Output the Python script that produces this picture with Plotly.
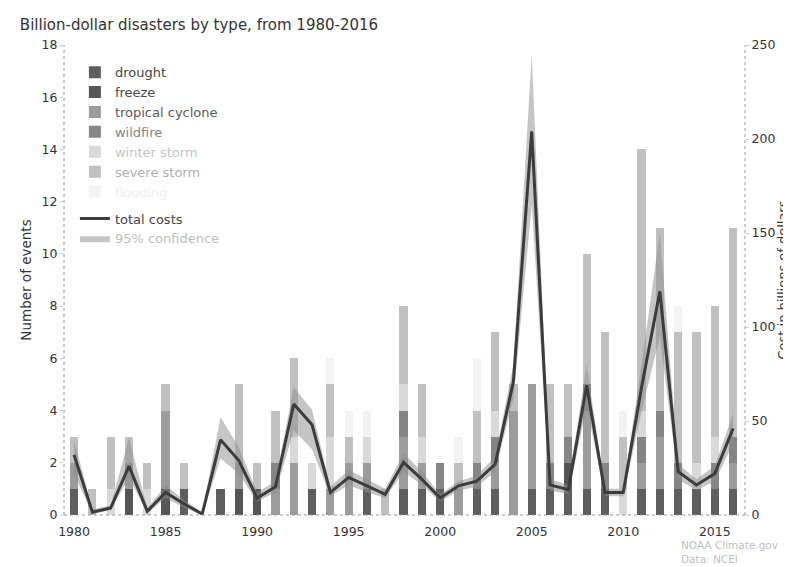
import plotly.graph_objects as go

years = list(range(1980, 2017))

# event counts by type
drought =          [1,0,0,0,0,0,1,0,1,0,0,0,0,1,0,0,1,0,1,1,1,0,1,1,0,1,1,1,1,1,0,1,1,1,1,1,1]
freeze =           [0,0,0,1,0,1,0,0,0,1,1,0,0,0,0,0,0,0,0,0,0,0,0,0,0,0,0,1,0,0,0,0,0,0,0,0,0]
tropical_cyclone = [1,0,0,1,0,3,0,0,0,1,0,1,2,0,1,2,1,0,2,1,0,1,0,1,4,4,0,0,3,0,0,1,2,0,0,0,1]
wildfire =         [0,0,0,0,0,0,0,0,0,0,0,1,0,0,0,0,0,0,1,0,1,0,1,1,0,0,1,1,1,1,0,1,1,1,0,1,1]
winter_storm =     [0,0,1,0,1,0,0,0,0,0,0,0,1,1,2,0,1,0,1,1,0,0,0,1,0,0,0,0,0,0,1,1,0,0,1,1,0]
severe_storm =     [1,1,2,1,1,1,1,0,0,3,1,2,3,0,2,1,0,1,3,2,0,1,2,3,1,0,3,2,5,5,2,10,7,5,5,5,8]
flooding =         [0,0,0,0,0,0,0,0,0,0,0,0,0,0,1,1,1,0,0,0,0,1,2,0,0,0,0,0,0,0,1,0,0,1,0,0,0]

# total costs (billions of dollars) and 95% confidence bounds
total_costs = [32,1.5,3.7,26,2,12,6,0.5,40,29,9,15,59,48,12,20,15.5,11,28,19,9,15.5,18,27,71,204,16,13.5,69,12,12,68,119,23,16,22,46]
conf_low =    [22,0.5,2.5,20,1,9,4,0,30,22,7,12,45,35,10,16,12,9,23,16,7,13,15,23,62,165,13,11,58,10,10,55,95,19,13,18,38]
conf_high =   [40,3,5,41,3.5,16,8,1.5,52,36,12,18,68,56,15,24,19,14,33,23,11,18,21,31,80,245,19,16,80,14,14,80,150,27,19,26,54]

x_ticks = [1980, 1985, 1990, 1995, 2000, 2005, 2010, 2015]
left_ticks = list(range(0, 19, 2))
right_ticks = [0, 50, 100, 150, 200, 250]

FONT = "DejaVu Sans"

bar_series = [
    ("drought", drought, "#5e5e5e", "#444444"),
    ("freeze", freeze, "#555555", "#484848"),
    ("tropical cyclone", tropical_cyclone, "#9c9c9c", "#5a5a5a"),
    ("wildfire", wildfire, "#858585", "#858585"),
    ("winter storm", winter_storm, "#d9d9d9", "#c4c4c4"),
    ("severe storm", severe_storm, "#c0c0c0", "#b0b0b0"),
    ("flooding", flooding, "#f3f3f3", "#f0f0f0"),
]

fig = go.Figure()
for i, (name, vals, color, tcolor) in enumerate(bar_series):
    fig.add_trace(go.Bar(
        x=years, y=vals, name=f"<span style='color:{tcolor}'>{name}</span>",
        marker=dict(color=color, line=dict(width=0)),
        width=0.45, legendgroup="types", legendrank=i + 1,
    ))

fig.add_trace(go.Scatter(
    x=years, y=conf_low, yaxis="y2", mode="lines",
    line=dict(width=0, color="rgba(0,0,0,0)"), showlegend=False,
    legendgroup="cost", hoverinfo="skip",
))
fig.add_trace(go.Scatter(
    x=years, y=conf_high, yaxis="y2", mode="lines", fill="tonexty",
    fillcolor="rgba(140,140,140,0.5)", line=dict(width=0, color="rgba(0,0,0,0)"),
    name="<span style='color:#bdbdbd'>95% confidence</span>",
    legendgroup="cost", legendrank=9,
))
fig.add_trace(go.Scatter(
    x=years, y=total_costs, yaxis="y2", mode="lines",
    line=dict(color="#3c3c3c", width=3),
    name="<span style='color:#444444'>total costs</span>",
    legendgroup="cost", legendrank=8,
))

dot = dict(color="#9a9a9a", width=1, dash="dot")
tick_font = dict(family=FONT, size=12.5, color="#333333")
fig.update_layout(
    width=791, height=567,
    margin=dict(l=56, r=52, t=37, b=60),
    paper_bgcolor="white", plot_bgcolor="white",
    barmode="stack",
    font=dict(family=FONT, size=13, color="#333333"),
    title=dict(text="Billion-dollar disasters by type, from 1980-2016",
               x=0.015, xanchor="left", y=0.97, yanchor="middle",
               font=dict(family=FONT, size=15, color="#333333")),
    xaxis=dict(range=[1979.45, 2016.65], tickmode="array", tickvals=x_ticks,
               showgrid=False, zeroline=False, showline=False,
               ticks="outside", ticklen=5, tickcolor="rgba(0,0,0,0)",
               tickfont=tick_font),
    yaxis=dict(range=[0, 18], tickmode="array", tickvals=left_ticks,
               showgrid=False, zeroline=False, showline=False,
               ticks="outside", ticklen=3, tickcolor="#c8c8c8",
               tickfont=tick_font,
               title=dict(text="Number of events", standoff=6,
                          font=dict(family=FONT, size=13.5, color="#333333"))),
    yaxis2=dict(range=[0, 250], overlaying="y", side="right",
                tickmode="array", tickvals=right_ticks,
                showgrid=False, zeroline=False, showline=False,
                ticks="outside", ticklen=3, tickcolor="#c8c8c8",
                tickfont=tick_font,
                title=dict(text="Cost in billions of dollars", standoff=2,
                           font=dict(family=FONT, size=13, color="#333333"))),
    legend=dict(x=0.016, y=0.974, xanchor="left", yanchor="top",
                bgcolor="rgba(0,0,0,0)", traceorder="grouped",
                tracegroupgap=7, font=dict(family=FONT, size=13)),
    shapes=[
        dict(type="line", xref="paper", yref="paper", x0=0, x1=0, y0=0, y1=1, line=dot),
        dict(type="line", xref="paper", yref="paper", x0=1, x1=1, y0=0, y1=1, line=dot),
        dict(type="line", xref="paper", yref="paper", x0=0, x1=1, y0=0, y1=0, line=dot),
    ],
    annotations=[dict(text="NOAA Climate.gov<br>Data: NCEI", xref="paper", yref="paper",
                      x=0.903, y=-0.11, xanchor="left", yanchor="bottom", align="left",
                      showarrow=False, font=dict(family=FONT, size=10.5, color="#c0c0c0"))],
    showlegend=True,
)

fig.write_html("out.html")
